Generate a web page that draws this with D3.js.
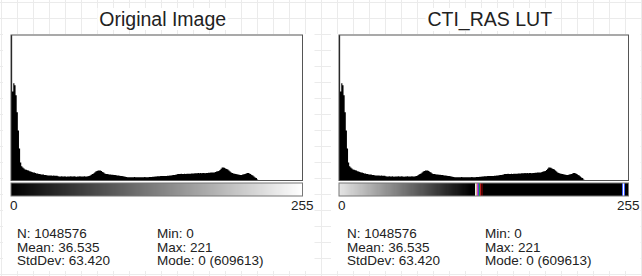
<!DOCTYPE html>
<html>
<head>
<meta charset="utf-8">
<script src="https://cdn.jsdelivr.net/npm/d3@7"></script>
<style>
  body { margin: 0; background: #fff; }
  svg { display: block; font-family: "Liberation Sans", Arial, sans-serif; }
</style>
</head>
<body>
<div id="chart"></div>
<script>
// histogram counts for grey levels 0..255 (same image in both panels)
var counts = [
  609613,
  21400, 23400, 22900, 20500, 16400, 12000, 7700, 4300, 3400, 3100,
  2900, 2650, 2600, 2450, 2400, 2200, 2150, 2050, 1950, 1900,
  1800, 1700, 1680, 1580, 1560, 1450, 1440, 1420, 1330, 1310,
  1250, 1220, 1190, 1230, 1180, 1150, 1200, 1140, 1120, 1160,
  1000, 980, 950, 1010, 940, 960, 1020, 930, 970, 990,
  950, 1000, 940, 960, 1010, 980, 930, 960, 990, 1000,
  950, 940, 980, 1010, 970, 990, 1050, 1100,
  1200, 1400, 1550, 1700, 1950, 2150, 2300, 2400, 2420, 2380, 2280, 2050,
  1900, 1700, 1580, 1550, 1480, 1460, 1440, 1400, 1380, 1330,
  1320, 1280, 1220, 1200, 1160, 1110, 1080, 1020, 960, 900,
  820, 800, 790, 810, 780, 800, 790, 820, 800, 780,
  790, 810, 800, 790, 780, 800, 820, 810, 790, 800,
  830, 850, 870, 900, 920, 950, 980, 1000, 1020, 1050,
  1080, 1090, 1070, 1100, 1090, 1110, 1120, 1150, 1180, 1220, 1260, 1300, 1350, 1400, 1450,
  1560, 1580, 1550, 1600, 1570, 1590, 1620, 1560, 1600, 1640, 1620, 1650, 1680, 1660, 1700,
  1720, 1750, 1740, 1780, 1760, 1790, 1770, 1800, 1780, 1760, 1800, 1820, 1850, 1870, 1900,
  1920, 1950, 1930, 2050, 2150, 2250, 2300, 2550, 2850, 3100, 3150, 3050, 2900, 2750, 2650,
  2400, 2150, 1950, 1800, 1700, 1620, 1550, 1500, 1450, 1380, 1330, 1350, 1420, 1500, 1580,
  1700, 1780, 1820, 1700, 1560, 1350, 1200, 950, 750, 600, 250, 120, 80, 50, 30, 15,
  0, 0, 0, 0, 0, 0, 0, 0, 0, 0, 0, 0, 0, 0, 0, 0, 0,
  0, 0, 0, 0, 0, 0, 0, 0, 0, 0, 0, 0, 0, 0, 0, 0, 0
];
var displayMax = 35000;   // mode bin is clipped, like ImageJ does

var panelTitles = ["Original Image", "CTI_RAS LUT"];
var axisTicks = [0, 255];

var statN = 1048576, statMean = "36.535", statStd = "63.420";
var statMin = 0, statMax = 221, statMode = 0, statModeCount = 609613;

// CTI_RAS: grey ramp light -> black, then a few coloured bands
var rasRampBins = [0, 116];
var rasRampGrey = ["#e4e4e4", "#000000"];
var rasBandBins = [120, 121, 122, 123, 124, 125, 126, 250, 251, 252];
var rasBandColors = ["#e8e8e8", "#d8b890", "#d040c0", "#5040e0", "#20a030", "#c02020", "#500000",
                     "#4060ff", "#ffffff", "#4060ff"];

var W = 642, H = 276;

var svg = d3.select("#chart").append("svg")
    .attr("width", W).attr("height", H);

// faint paper grid behind everything
var grid = svg.append("g").attr("stroke", "#ebebeb").attr("stroke-width", 1);
d3.range(1, W, 16).forEach(function(gx) {
  grid.append("line").attr("x1", gx + 0.5).attr("x2", gx + 0.5).attr("y1", 0).attr("y2", H);
});
d3.range(2, H, 16).forEach(function(gy) {
  grid.append("line").attr("y1", gy + 0.5).attr("y2", gy + 0.5).attr("x1", 0).attr("x2", W);
});

var rasRamp = d3.scaleLinear().domain(rasRampBins).range(rasRampGrey).clamp(true);
var greyRamp = d3.scaleLinear().domain([0, 255]).range(["#000000", "#ffffff"]);
function rasColor(i) {
  var k = rasBandBins.indexOf(i);
  if (k >= 0) return rasBandColors[k];
  return i <= rasRampBins[1] ? rasRamp(i) : "#000000";
}

var panels = [
  {left: 11, right: 302.5, textL: 17, textR: 157, lut: function(i) { return greyRamp(i); }},
  {left: 339, right: 628.5, textL: 347, textR: 485, lut: rasColor}
];

var plotTop = 35, plotBottom = 180.5;

panels.forEach(function(p, pi) {
  var g = svg.append("g");

  // white window area
  g.append("rect")
    .attr("x", p.left - 8).attr("y", plotTop - 1)
    .attr("width", p.right - p.left + 20).attr("height", 237)
    .attr("fill", "#fff");

  // title with white backing
  var title = g.append("text")
    .attr("x", (p.left + p.right) / 2 + 6)
    .attr("y", 26)
    .attr("text-anchor", "middle")
    .style("font-size", "19.5px")
    .attr("fill", "#222")
    .text(panelTitles[pi]);
  var bb = title.node().getBBox();
  g.insert("rect", "text")
    .attr("x", bb.x - 2).attr("y", bb.y).attr("width", bb.width + 4).attr("height", bb.height)
    .attr("fill", "#fff");

  var x = d3.scaleLinear().domain([0, 256]).range([p.left, p.right]);
  var y = d3.scaleLinear().domain([0, displayMax]).range([plotBottom, plotTop]).clamp(true);

  var pts = counts.map(function(c, i) { return [i, c]; });
  pts.push([256, 0]);

  var area = d3.area()
    .curve(d3.curveStepAfter)
    .x(function(d) { return x(d[0]); })
    .y0(plotBottom)
    .y1(function(d) { return y(d[1]); });

  g.append("path")
    .datum(pts)
    .attr("d", area)
    .attr("fill", "#000");

  // plot frame
  g.append("rect")
    .attr("x", p.left).attr("y", plotTop)
    .attr("width", p.right - p.left).attr("height", plotBottom - plotTop)
    .attr("fill", "none").attr("stroke", "#555").attr("stroke-width", 1);

  // LUT bar
  var barTop = 183, barH = 13;
  g.selectAll(".lut" + pi)
    .data(d3.range(256))
    .enter().append("rect")
    .attr("x", function(i) { return x(i); })
    .attr("y", barTop)
    .attr("width", function(i) { return x(i + 1) - x(i) + 0.4; })
    .attr("height", barH)
    .attr("fill", p.lut)
    .attr("shape-rendering", "crispEdges");
  g.append("rect")
    .attr("x", p.left).attr("y", barTop)
    .attr("width", p.right - p.left).attr("height", barH)
    .attr("fill", "none").attr("stroke", "#777").attr("stroke-width", 1);

  // 0 / 255 labels
  g.append("text")
    .attr("x", x(axisTicks[0]) - 1).attr("y", 210)
    .style("font-size", "13.5px").attr("fill", "#222")
    .text(axisTicks[0]);
  g.append("text")
    .attr("x", x(256) + 11).attr("y", 210)
    .attr("text-anchor", "end")
    .style("font-size", "13.5px").attr("fill", "#222")
    .text(axisTicks[1]);

  // statistics
  var leftLines = ["N: " + statN, "Mean: " + statMean, "StdDev: " + statStd];
  var rightLines = ["Min: " + statMin, "Max: " + statMax, "Mode: " + statMode + " (" + statModeCount + ")"];
  [leftLines, rightLines].forEach(function(lines, col) {
    lines.forEach(function(t, r) {
      g.append("text")
        .attr("x", col === 0 ? p.textL : p.textR)
        .attr("y", 238 + r * 13.6)
        .style("font-size", "13.5px")
        .attr("fill", "#222")
        .text(t);
    });
  });
});
</script>
</body>
</html>
